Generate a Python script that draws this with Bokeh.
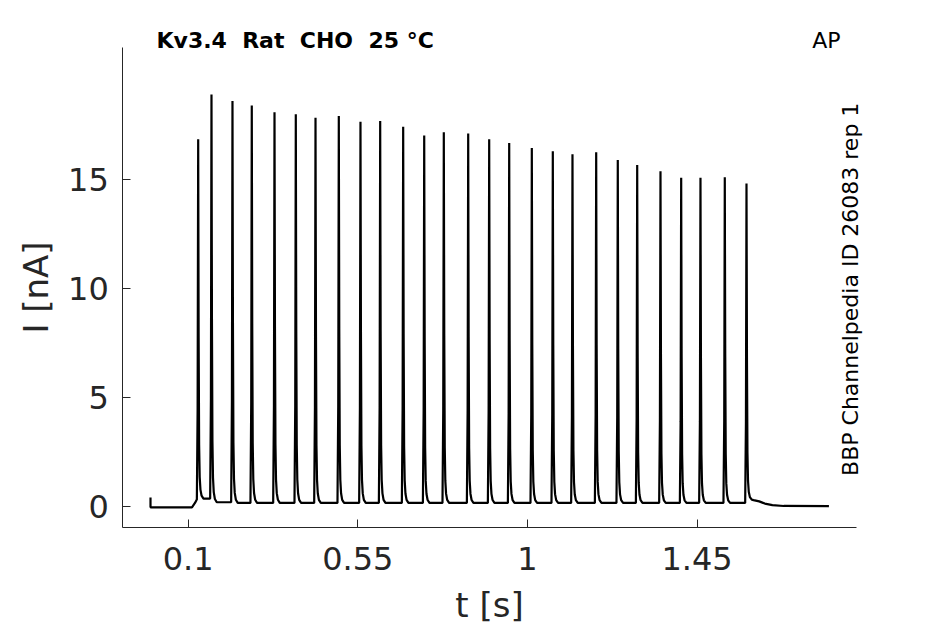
import numpy as np
from bokeh.plotting import figure
from bokeh.models import Range1d, FixedTicker, Label
from bokeh.embed import file_html
from bokeh.resources import INLINE

# ---- data ----
spike_t = [0.1265, 0.1618, 0.2175, 0.2687, 0.3290, 0.3855, 0.4378, 0.4996, 0.5571,
           0.6094, 0.6704, 0.7262, 0.7782, 0.8429, 0.8986, 0.9517, 1.0117, 1.0674,
           1.1196, 1.1825, 1.2398, 1.2913, 1.3531, 1.4080, 1.4592, 1.5237, 1.5813]
spike_peak = [16.85, 18.90, 18.60, 18.40, 18.09, 18.00, 17.83, 17.92, 17.65,
              17.69, 17.42, 17.02, 17.17, 17.11, 16.85, 16.68, 16.45, 16.30,
              16.16, 16.25, 15.89, 15.66, 15.38, 15.08, 15.08, 15.10, 14.82]
trough_after = [0.35, 0.18, 0.15, 0.15, 0.15, 0.15, 0.15, 0.15, 0.15,
                0.15, 0.15, 0.15, 0.15, 0.15, 0.15, 0.15, 0.15, 0.15,
                0.15, 0.15, 0.15, 0.15, 0.15, 0.15, 0.15, 0.15, 0.30]
pre_t = [0.0, 0.0, 0.110, 0.118, 0.1225]
pre_i = [0.40, -0.05, -0.05, 0.15, 0.30]
post_t = [1.600, 1.615, 1.630, 1.650, 1.680, 1.800]
post_i = [0.28, 0.22, 0.12, 0.05, 0.01, 0.0]
# spike waveform template: offsets (s) from the peak and fractions of the amplitude
rise_dt = [-0.0035, -0.0015]
rise_frac = [0.0, 0.25]
fall_dt = [0.0012, 0.0025, 0.0040, 0.0060, 0.0090, 0.0140]
fall_frac = [0.45, 0.15, 0.06, 0.025, 0.008, 0.0]

x_ticks = [0.1, 0.55, 1, 1.45]
x_tick_labels = ["0.1", "0.55", "1", "1.45"]
y_ticks = [0, 5, 10, 15]
x_axis_bounds = (-0.0735, 1.873)
y_axis_bounds = (-0.97, 21.05)

title_text = "Kv3.4\u00a0 Rat\u00a0 CHO\u00a0 25 °C"
protocol_text = "AP"
source_text = "BBP Channelpedia ID 26083 rep 1"

# ---- build the trace from the arrays ----
tt = list(pre_t)
ii = list(pre_i)
prev_base = pre_i[-1]
for t0, pk, b in zip(spike_t, spike_peak, trough_after):
    for d, f in zip(rise_dt, rise_frac):
        tt.append(t0 + d); ii.append(prev_base + f * (pk - prev_base))
    tt.append(t0); ii.append(pk)
    for d, f in zip(fall_dt, fall_frac):
        tt.append(t0 + d); ii.append(b + f * (pk - b))
    prev_base = b
tt += post_t
ii += post_i

FONT = "DejaVu Sans"
AX = "#262626"

# the frame fills the whole canvas; the axes are pinned at fixed data locations
p = figure(frame_width=945, frame_height=624, title=None,
           x_range=Range1d(-0.398, 2.1093), y_range=Range1d(-5.432, 23.218),
           output_backend="svg", toolbar_location=None,
           min_border=0)
p.outline_line_color = None
p.grid.visible = False
p.background_fill_color = "white"
p.border_fill_color = "white"

p.line(tt, ii, line_color="black", line_width=2.2)

for ax in (p.xaxis[0], p.yaxis[0]):
    ax.axis_line_color = AX
    ax.axis_line_width = 1
    ax.major_tick_line_color = AX
    ax.major_tick_in = 8
    ax.major_tick_out = 0
    ax.minor_tick_line_color = None
    ax.major_label_text_font = FONT
    ax.major_label_text_font_size = "32px"
    ax.major_label_text_color = AX
    ax.axis_label_text_font = FONT
    ax.axis_label_text_font_size = "34px"
    ax.axis_label_text_font_style = "normal"
    ax.axis_label_text_color = AX

xa = p.xaxis[0]
xa.fixed_location = y_axis_bounds[0]
xa.bounds = x_axis_bounds
xa.ticker = FixedTicker(ticks=x_ticks)
xa.major_label_overrides = {float(v): s for v, s in zip(x_ticks, x_tick_labels)}
xa.axis_label = "t [s]"
xa.major_label_standoff = 20
xa.axis_label_standoff = 11

ya = p.yaxis[0]
ya.fixed_location = x_axis_bounds[0]
ya.bounds = y_axis_bounds
ya.ticker = FixedTicker(ticks=y_ticks)
ya.axis_label = "I [nA]"
ya.major_label_standoff = 14
ya.axis_label_standoff = 9

p.add_layout(Label(x=0.0159, y=21.39, text=title_text,
                   text_font=FONT, text_font_size="22px", text_font_style="bold",
                   text_color="black", text_baseline="alphabetic", text_align="left"))
p.add_layout(Label(x=1.7556, y=21.39, text=protocol_text,
                   text_font=FONT, text_font_size="22px",
                   text_color="black", text_baseline="alphabetic", text_align="left"))
p.add_layout(Label(x=1.8575, y=1.39, text=source_text,
                   angle=np.pi / 2, text_font=FONT, text_font_size="22px",
                   text_color="black", text_baseline="alphabetic", text_align="left"))

open("out.html", "w").write(file_html(p, INLINE))
